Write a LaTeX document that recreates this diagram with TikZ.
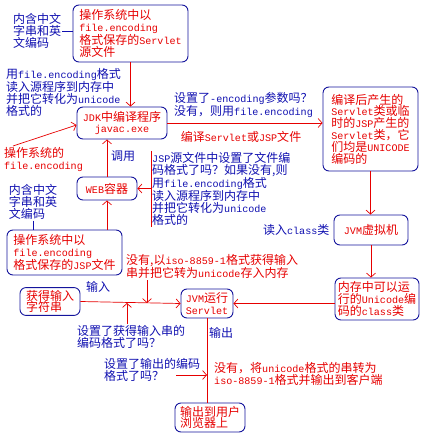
\documentclass[tikz,border=0pt]{standalone}
\usepackage{fontspec}
\setmainfont{Noto Sans CJK SC}
\newfontfamily\latinmono[Scale=0.84]{Liberation Mono}
\usepackage{xcolor}
\usetikzlibrary{arrows.meta,positioning}
\definecolor{notered}{HTML}{E60000}
\definecolor{noteblue}{HTML}{1010B0}
\definecolor{frameblue}{HTML}{14149C}
\newcommand{\cnfont}{\fontsize{12}{11.8}\selectfont}
\newcommand{\en}[1]{{\latinmono #1}}
\tikzset{
  stagebox/.style={
    draw=frameblue,
    line width=0.9pt,
    rounded corners=6pt,
    text=notered,
    align=left,
    inner sep=2.5pt,
    font=\cnfont
  },
  bluenote/.style={text=noteblue,align=left,inner sep=1pt,font=\cnfont},
  rednote/.style={text=notered,align=left,inner sep=1pt,font=\cnfont},
  flow/.style={-{Straight Barb[length=4pt,width=9pt]},line width=0.7pt,draw=notered},
  redline/.style={line width=0.7pt,draw=notered},
  notelink/.style={line width=0.7pt,draw=noteblue}
}

\begin{document}
\begin{tikzpicture}[x=1pt,y=-1pt]
  \useasboundingbox (0,0) rectangle (440,443);
  % compile stage
  \node[stagebox,minimum width=115,minimum height=57] (srcfile) at (130.5,33.5)
    {操作系统中以\\\en{file.encoding}\\格式保存的\en{Servlet}\\源文件};
  \node[bluenote] (srcnote) at (37,31) {内含中文\\字串和英\\文编码};
  \node[bluenote,anchor=north west] (readnote) at (5,67)
    {用\en{file.encoding}格式\\读入源程序到内存中\\并把它转化为\en{unicode}\\格式的};
  \node[stagebox,align=center,minimum width=90,minimum height=32] (javac) at (122,123)
    {\en{JDK}中编译程序\\\en{javac.exe}};
  \node[rednote,anchor=north west] (osenc) at (3,146) {操作系统的\\\en{file.encoding}};
  \node[bluenote,anchor=north west] (encq) at (173,91)
    {设置了\en{-encoding}参数吗？\\没有，则用\en{file.encoding}};
  \node[rednote] (compile) at (241,137) {编译\en{Servlet}或\en{JSP}文件};
  \node[stagebox,minimum width=95,minimum height=84] (classes) at (370.5,129)
    {编译后产生的\\\en{Servlet}类或临\\时的\en{JSP}产生的\\\en{Servlet}类，它\\们均是\en{UNICODE}\\编码的};
  % web container
  \node[bluenote] (call) at (123,156) {调用};
  \node[stagebox,minimum width=60,minimum height=23] (web) at (107,188.5) {\en{WEB}容器};
  \node[bluenote,anchor=north west] (jspq) at (151,151)
    {\en{JSP}源文件中设置了文件编\\码格式了吗？如果没有,则\\用\en{file.encoding}格式\\读入源程序到内存中\\并把它转化为\en{unicode}\\格式的};
  \node[bluenote] (jspnote) at (33,202) {内含中文\\字串和英\\文编码};
  \node[stagebox,minimum width=115,minimum height=45] (jspfile) at (64.5,252.5)
    {操作系统中以\\\en{file.encoding}\\格式保存的\en{JSP}文件};
  % run stage
  \node[rednote,anchor=north west] (isonote) at (125,253)
    {没有,以\en{iso-8859-1}格式获得输入\\串并把它转为\en{unicode}存入内存};
  \node[stagebox,minimum width=60,minimum height=27] (input) at (50,301.5) {获得输入\\字符串};
  \node[bluenote] (inlabel) at (98,287) {输入};
  \node[stagebox,align=center,minimum width=52,minimum height=29] (jvmrun) at (207,303.5)
    {\en{JVM}运行\\\en{Servlet}};
  \node[bluenote,anchor=north west] (inq) at (76,324) {设置了获得输入串的\\编码格式了吗？};
  \node[stagebox,minimum width=74,minimum height=30] (jvm) at (371,230) {\en{JVM}虚拟机};
  \node[bluenote,left=3pt of jvm] (readcls) {读入\en{class}类};
  \node[stagebox,minimum width=84,minimum height=42] (mem) at (377,299)
    {内存中可以运\\行的\en{Unicode}编\\码的\en{class}类};
  \node[bluenote] (outlabel) at (221,333) {输出};
  \node[bluenote,anchor=north west] (outq) at (103,357) {设置了输出的编码\\格式了吗？};
  \node[rednote,anchor=north west] (isoout) at (213,361)
    {没有，将\en{unicode}格式的串转为\\\en{iso-8859-1}格式并输出到客户端};
  \node[stagebox,minimum width=70,minimum height=29] (browser) at (210,417.5)
    {输出到用户\\浏览器上};
  \coordinate (isojoin) at (147,303);
  \coordinate (injoin) at (127,303);
  \coordinate (outstart) at (176,375);
  \coordinate (outjoin) at (207,375);

  \draw[notelink] (srcnote.east) -- (srcnote.east -| srcfile.west);
  \draw[notelink] (jspnote.south) -- (jspnote.south |- jspfile.north);
  \draw[flow] (srcfile.south) -- (srcfile.south |- javac.north);
  \draw[flow] ([xshift=10pt]osenc.north west) -- ([yshift=-2pt]javac.west);
  \draw[flow] (javac.east) -- (javac.east -| classes.west);
  \draw[flow] (web.north) -- (web.north |- javac.south);
  \draw[redline] (jspq.north west) -- (jspq.south west);
  \draw[flow] (jspq.west |- web.east) -- (web.east);
  \draw[flow] (web.south |- jspfile.north) -- (web.south);
  \draw[flow] (classes.south) -- (classes.south |- jvm.north);
  \draw[flow] (jvm.south) -- (jvm.south |- mem.north);
  \draw[flow] (jvmrun.east -| mem.west) -- (jvmrun.east);
  \draw[flow] (input.east) -- (jvmrun.west);
  \draw[flow] (isojoin |- isonote.south) -- (isojoin);
  \draw[flow] (injoin |- inq.north) -- (injoin);
  \draw[redline] (jvmrun.south) -- (jvmrun.south |- browser.north);
  \draw[flow] (outstart) -- (outjoin);
\end{tikzpicture}
\end{document}
